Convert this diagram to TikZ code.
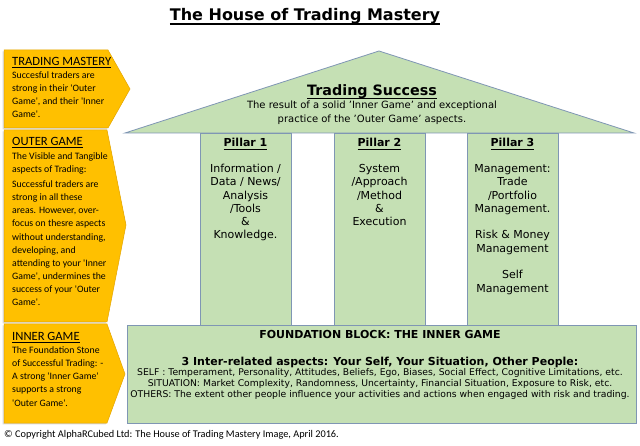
\documentclass[tikz,border=0pt]{standalone}
\usepackage{fontspec}
\setmainfont{DejaVu Sans}
\newfontfamily\calib{Carlito}
\definecolor{gold}{HTML}{FFC000}
\definecolor{goldedge}{HTML}{E3A500}
\definecolor{leaf}{HTML}{C5E0B4}
\definecolor{leafedge}{HTML}{7F96B4}
% custom underline: text, rule thickness, depth below baseline
\newcommand\myul[3]{\setbox0\hbox{#1}\rlap{\rule[-#3]{\wd0}{#2}}\box0}
\begin{document}
\begin{tikzpicture}[x=1pt,y=-1pt,
  goldshape/.style={fill=gold,draw=goldedge,line width=0.5pt},
  shadowshape/.style={fill=black!14},
  greenshape/.style={fill=leaf,draw=leafedge,line width=0.8pt},
  lefthead/.style={anchor=base west,inner sep=0pt,font={\calib\fontsize{12.6}{14}\selectfont}},
  lefttext/.style={anchor=base west,inner sep=0pt,align=left,font={\calib\fontsize{9.8}{13.15}\selectfont}},
  pillarhead/.style={anchor=base,inner sep=0pt,font={\bfseries\fontsize{11}{13}\selectfont}},
  pillartext/.style={anchor=base,inner sep=0pt,align=center,font={\fontsize{11}{13.3}\selectfont}},
  ]
\useasboundingbox (0,0) rectangle (640,446);
\fill[white] (0,0) rectangle (640,446);

% title
\node[anchor=base,inner sep=0pt,font={\bfseries\fontsize{16}{19}\selectfont}] (title) at (305,21) {\myul{The House of Trading Mastery}{1.4pt}{3.6pt}};

% left arrows
\fill[shadowshape] (2.7,51.3)--(106.7,51.3)--(128.7,90.3)--(106.7,129.3)--(2.7,129.3)--cycle;
\draw[goldshape] (4,50)--(108,50)--(130,89)--(108,128)--(4,128)--cycle;
\fill[shadowshape] (2.7,131.3)--(105.7,131.3)--(124.7,226.3)--(105.7,323.3)--(2.7,323.3)--cycle;
\draw[goldshape] (4,130)--(107,130)--(126,225)--(107,322)--(4,322)--cycle;
\fill[shadowshape] (2.7,325.3)--(105.7,325.3)--(123.7,375.3)--(105.7,424.3)--(2.7,424.3)--cycle;
\draw[goldshape] (4,324)--(107,324)--(125,374)--(107,423)--(4,423)--cycle;

% (multi-line nodes: base anchor = baseline of last line)
\node[lefthead] (tmhead) at (12,66) {\myul{TRADING MASTERY}{0.9pt}{2.2pt}};
\node[lefttext] (tmbody) at (12,117.95) {Succesful traders are\\strong in their 'Outer\\Game', and their 'Inner\\Game'.};

\node[lefthead] (oghead) at (12,146) {\myul{OUTER GAME}{0.9pt}{2.2pt}};
\node[lefttext] (ogbody1) at (12,172.65) {The Visible and Tangible\\aspects of Trading:};
\node[lefttext] (ogbody2) at (12,305.85) {Successful traders are\\strong in all these\\areas. However, over-\\focus on thesre aspects\\without understanding,\\developing, and\\attending to your 'Inner\\Game', undermines the\\success of your 'Outer\\Game'.};

\node[lefthead] (ighead) at (12,341) {\myul{INNER GAME}{0.9pt}{2.2pt}};
\node[lefttext] (igbody) at (12,406.1) {The Foundation Stone\\of Successful Trading: -\\A strong 'Inner Game'\\supports a strong\\'Outer Game'.};

% house
\draw[greenshape] (125,133)--(379,51)--(634,133)--cycle;
\draw[greenshape] (200,133) rectangle (291,325);
\draw[greenshape] (334,133) rectangle (425,325);
\draw[greenshape] (467,133) rectangle (558,325);
\draw[greenshape] (127,325) rectangle (636,423);

\node[anchor=base,inner sep=0pt,font={\bfseries\fontsize{14.3}{16}\selectfont}] (success) at (372,96) {\myul{Trading Success}{1.3pt}{3.2pt}};
\node[anchor=base,inner sep=0pt,align=center,font={\fontsize{10}{14}\selectfont}] (successtext) at (372,122.5) {The result of a solid 'Inner Game' and exceptional\\practice of the 'Outer Game' aspects.};

\node[pillarhead] (p1head) at (245.5,147) {\myul{Pillar 1}{1pt}{2.6pt}};
\node[pillarhead] (p2head) at (379.5,147) {\myul{Pillar 2}{1pt}{2.6pt}};
\node[pillarhead] (p3head) at (512.5,147) {\myul{Pillar 3}{1pt}{2.6pt}};
\node[pillartext] (p1text) at (245.5,239) {Information /\\Data / News/\\Analysis\\/Tools\\\&\\Knowledge.};
\node[pillartext] (p2text) at (379.5,225.7) {System\\/Approach\\/Method\\\&\\Execution};
\node[pillartext] (p3text) at (512.5,292.2) {Management:\\Trade\\/Portfolio\\Management.\\[13.3pt]Risk \& Money\\Management\\[13.3pt]Self\\Management};

\node[anchor=base,inner sep=0pt,font={\bfseries\fontsize{11}{13}\selectfont}] (fhead) at (380,339) {FOUNDATION BLOCK: THE INNER GAME};
\node[anchor=base,inner sep=0pt,font={\bfseries\fontsize{11}{13}\selectfont}] (fsub) at (380,365) {3 Inter-related aspects: Your Self, Your Situation, Other People:};
\node[anchor=base,inner sep=0pt,align=center,font={\fontsize{9.25}{11}\selectfont}] (ftext) at (380,397.5) {SELF : Temperament, Personality, Attitudes, Beliefs, Ego, Biases, Social Effect, Cognitive Limitations, etc.\\SITUATION: Market Complexity, Randomness, Uncertainty, Financial Situation, Exposure to Risk, etc.\\OTHERS: The extent other people influence your activities and actions when engaged with risk and trading.};

\node[anchor=base west,inner sep=0pt,font={\calib\fontsize{10.3}{12}\selectfont}] (copy) at (4,437.5) {© Copyright AlphaRCubed Ltd: The House of Trading Mastery Image, April 2016.};
\end{tikzpicture}
\end{document}
